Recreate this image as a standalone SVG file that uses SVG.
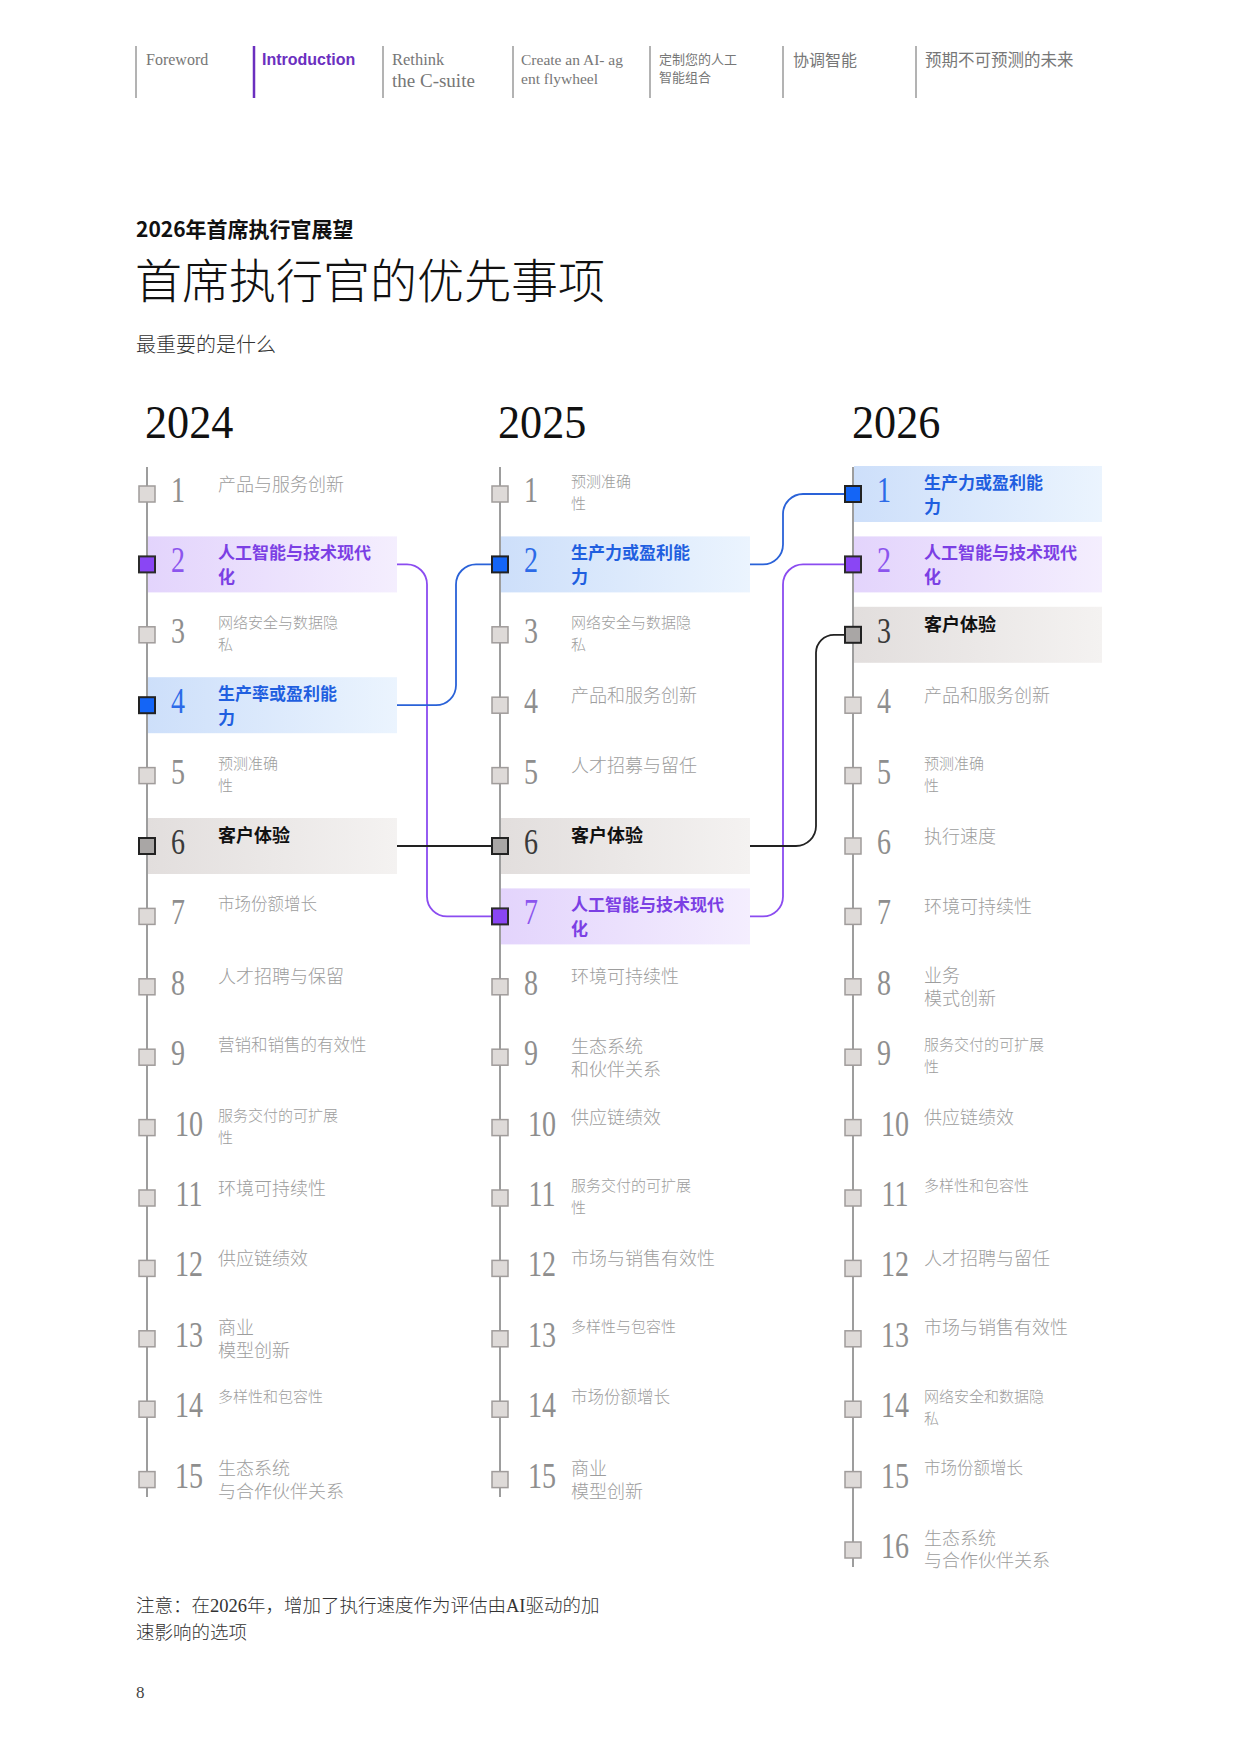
<svg xmlns="http://www.w3.org/2000/svg" width="1241" height="1754" viewBox="0 0 1241 1754">
<style>
.bg{fill:#fff}
.sep{stroke:#9a9a9a;stroke-width:1.5}
.sepa{stroke:#6b2fbf;stroke-width:2.5}
.navs{font-family:"Liberation Serif",serif;fill:#777}
.navc{font-family:"Noto Sans CJK SC",sans-serif;fill:#777}
.spine{stroke:#9d9d9d;stroke-width:2}
.sq{fill:#dedad8;stroke:#a09c9b;stroke-width:1.5}
.sqp{fill:#8a46f4;stroke:#2b2b2b;stroke-width:2}
.sqb{fill:#1465f6;stroke:#222;stroke-width:2}
.sqg{fill:#a9a6a5;stroke:#222;stroke-width:2}
.num{font-family:"Liberation Serif",serif;font-size:35px;fill:#8e8e8e;text-anchor:middle}
.np{fill:#8c55ee}.nb{fill:#2c6ae8}.ng{fill:#3a3a3a}
.lbl{font-family:"Noto Sans CJK SC",sans-serif;fill:#9d9d9d;font-weight:300}
.s18{font-size:18px}.s165{font-size:16.5px}.s15{font-size:15px}
.bp{font-family:"Noto Sans CJK SC",sans-serif;font-weight:700;font-size:17px;fill:#7b3fe4}
.bb{font-family:"Noto Sans CJK SC",sans-serif;font-weight:700;font-size:17px;fill:#1f5fe0}
.bk{font-family:"Noto Sans CJK SC",sans-serif;font-weight:700;font-size:18px;fill:#111}
.year{font-family:"Liberation Serif",serif;font-size:47px;fill:#111}
.cp{fill:none;stroke:#8b4cf0;stroke-width:1.8}
.cb{fill:none;stroke:#2a62d8;stroke-width:1.8}
.ck{fill:none;stroke:#222;stroke-width:1.8}
</style>
<defs>
<linearGradient id="gp" x1="0" y1="0" x2="1" y2="0"><stop offset="0" stop-color="#e3d4fc"/><stop offset="1" stop-color="#f4eefe"/></linearGradient>
<linearGradient id="gb" x1="0" y1="0" x2="1" y2="0"><stop offset="0" stop-color="#cddffa"/><stop offset="1" stop-color="#ebf4fe"/></linearGradient>
<linearGradient id="gg" x1="0" y1="0" x2="1" y2="0"><stop offset="0" stop-color="#e2dedd"/><stop offset="1" stop-color="#f4f2f1"/></linearGradient>
</defs>
<rect class="bg" x="0" y="0" width="1241" height="1754"/>

<g id="nav">
<line class="sep" x1="136" y1="46" x2="136" y2="98"/>
<line class="sepa" x1="254" y1="46" x2="254" y2="98"/>
<line class="sep" x1="383" y1="46" x2="383" y2="98"/>
<line class="sep" x1="513" y1="46" x2="513" y2="98"/>
<line class="sep" x1="650" y1="46" x2="650" y2="98"/>
<line class="sep" x1="783" y1="46" x2="783" y2="98"/>
<line class="sep" x1="916" y1="46" x2="916" y2="98"/>
<text class="navs" x="146" y="65" font-size="16">Foreword</text>
<text x="262" y="65" font-family="'Liberation Sans',sans-serif" font-weight="700" font-size="16" fill="#6b2fbf">Introduction</text>
<text class="navs" x="392" y="65" font-size="16.5">Rethink</text>
<text class="navs" x="392" y="87" font-size="19">the C-suite</text>
<text class="navs" x="521" y="65" font-size="15.5">Create an AI- ag</text>
<text class="navs" x="521" y="84" font-size="15.5">ent flywheel</text>
<text class="navc" x="659" y="64" font-size="13">定制您的人工</text>
<text class="navc" x="659" y="82" font-size="13">智能组合</text>
<text class="navc" x="793" y="66" font-size="16">协调智能</text>
<text class="navc" x="925" y="66" font-size="16.5">预期不可预测的未来</text>
</g>

<g id="header">
<text x="136" y="237" font-family="'Noto Sans CJK SC',sans-serif" font-weight="700" font-size="21" fill="#111">2026年首席执行官展望</text>
<text x="135" y="298" font-family="'Noto Sans CJK SC',sans-serif" font-weight="300" font-size="47" fill="#111">首席执行官的优先事项</text>
<text x="136" y="352" font-family="'Noto Sans CJK SC',sans-serif" font-weight="300" font-size="20" fill="#333">最重要的是什么</text>
<text class="year" transform="translate(145 438) scale(0.94 1)">2024</text>
<text class="year" transform="translate(498 438) scale(0.94 1)">2025</text>
<text class="year" transform="translate(852 438) scale(0.94 1)">2026</text>
</g>

<g id="spines">
<line class="spine" x1="147" y1="467" x2="147" y2="1497"/>
<line class="spine" x1="500" y1="467" x2="500" y2="1497"/>
<line class="spine" x1="853" y1="467" x2="853" y2="1567"/>
</g>

<g id="connectors">
<path class="cp" d="M397 564.4H407A20 20 0 0 1 427 584.4V896.4A20 20 0 0 0 447 916.4H492"/>
<path class="cb" d="M397 705.2H436A20 20 0 0 0 456 685.2V584.4A20 20 0 0 1 476 564.4H492"/>
<path class="ck" d="M397 846H492"/>
<path class="cb" d="M750 564.4H763A20 20 0 0 0 783 544.4V514A20 20 0 0 1 803 494H845"/>
<path class="cp" d="M750 916.4H763A20 20 0 0 0 783 896.4V584.4A20 20 0 0 1 803 564.4H845"/>
<path class="ck" d="M750 846H796A20 20 0 0 0 816 826V652.8A18 18 0 0 1 834 634.8H845"/>
</g>

<!-- 2024 column -->
<g id="y2024-1"><rect class="sq" x="139" y="486" width="16" height="16"/><text class="num" transform="translate(178 502) scale(0.8 1)">1</text><text class="lbl s18" x="218" y="490.5">产品与服务创新</text></g>
<g id="y2024-2"><rect x="148" y="536.4" width="249" height="56" fill="url(#gp)"/><rect class="sqp" x="139" y="556.4" width="16" height="16"/><text class="num np" transform="translate(178 572.4) scale(0.8 1)">2</text><text class="bp" x="218" y="559.4">人工智能与技术现代</text><text class="bp" x="218" y="583.4">化</text></g>
<g id="y2024-3"><rect class="sq" x="139" y="626.8" width="16" height="16"/><text class="num" transform="translate(178 642.8) scale(0.8 1)">3</text><text class="lbl s15" x="218" y="627.8">网络安全与数据隐</text><text class="lbl s15" x="218" y="649.8">私</text></g>
<g id="y2024-4"><rect x="148" y="677.2" width="249" height="56" fill="url(#gb)"/><rect class="sqb" x="139" y="697.2" width="16" height="16"/><text class="num nb" transform="translate(178 713.2) scale(0.8 1)">4</text><text class="bb" x="218" y="700.2">生产率或盈利能</text><text class="bb" x="218" y="724.2">力</text></g>
<g id="y2024-5"><rect class="sq" x="139" y="767.6" width="16" height="16"/><text class="num" transform="translate(178 783.6) scale(0.8 1)">5</text><text class="lbl s15" x="218" y="768.6">预测准确</text><text class="lbl s15" x="218" y="790.6">性</text></g>
<g id="y2024-6"><rect x="148" y="818" width="249" height="56" fill="url(#gg)"/><rect class="sqg" x="139" y="838" width="16" height="16"/><text class="num ng" transform="translate(178 854) scale(0.8 1)">6</text><text class="bk" x="218" y="842">客户体验</text></g>
<g id="y2024-7"><rect class="sq" x="139" y="908.4" width="16" height="16"/><text class="num" transform="translate(178 924.4) scale(0.8 1)">7</text><text class="lbl s165" x="218" y="910.4">市场份额增长</text></g>
<g id="y2024-8"><rect class="sq" x="139" y="978.8" width="16" height="16"/><text class="num" transform="translate(178 994.8) scale(0.8 1)">8</text><text class="lbl s18" x="218" y="983.3">人才招聘与保留</text></g>
<g id="y2024-9"><rect class="sq" x="139" y="1049.2" width="16" height="16"/><text class="num" transform="translate(178 1065.2) scale(0.8 1)">9</text><text class="lbl s165" x="218" y="1051.2">营销和销售的有效性</text></g>
<g id="y2024-10"><rect class="sq" x="139" y="1119.6" width="16" height="16"/><text class="num" transform="translate(189 1135.6) scale(0.8 1)">10</text><text class="lbl s15" x="218" y="1120.6">服务交付的可扩展</text><text class="lbl s15" x="218" y="1142.6">性</text></g>
<g id="y2024-11"><rect class="sq" x="139" y="1190" width="16" height="16"/><text class="num" transform="translate(189 1206) scale(0.8 1)">11</text><text class="lbl s18" x="218" y="1194.5">环境可持续性</text></g>
<g id="y2024-12"><rect class="sq" x="139" y="1260.4" width="16" height="16"/><text class="num" transform="translate(189 1276.4) scale(0.8 1)">12</text><text class="lbl s18" x="218" y="1264.9">供应链绩效</text></g>
<g id="y2024-13"><rect class="sq" x="139" y="1330.8" width="16" height="16"/><text class="num" transform="translate(189 1346.8) scale(0.8 1)">13</text><text class="lbl s18" x="218" y="1334.3">商业</text><text class="lbl s18" x="218" y="1357.3">模型创新</text></g>
<g id="y2024-14"><rect class="sq" x="139" y="1401.2" width="16" height="16"/><text class="num" transform="translate(189 1417.2) scale(0.8 1)">14</text><text class="lbl s15" x="218" y="1402.2">多样性和包容性</text></g>
<g id="y2024-15"><rect class="sq" x="139" y="1471.6" width="16" height="16"/><text class="num" transform="translate(189 1487.6) scale(0.8 1)">15</text><text class="lbl s18" x="218" y="1475.1">生态系统</text><text class="lbl s18" x="218" y="1498.1">与合作伙伴关系</text></g>

<!-- 2025 column -->
<g id="y2025-1"><rect class="sq" x="492" y="486" width="16" height="16"/><text class="num" transform="translate(531 502) scale(0.8 1)">1</text><text class="lbl s15" x="571" y="487">预测准确</text><text class="lbl s15" x="571" y="509">性</text></g>
<g id="y2025-2"><rect x="501" y="536.4" width="249" height="56" fill="url(#gb)"/><rect class="sqb" x="492" y="556.4" width="16" height="16"/><text class="num nb" transform="translate(531 572.4) scale(0.8 1)">2</text><text class="bb" x="571" y="559.4">生产力或盈利能</text><text class="bb" x="571" y="583.4">力</text></g>
<g id="y2025-3"><rect class="sq" x="492" y="626.8" width="16" height="16"/><text class="num" transform="translate(531 642.8) scale(0.8 1)">3</text><text class="lbl s15" x="571" y="627.8">网络安全与数据隐</text><text class="lbl s15" x="571" y="649.8">私</text></g>
<g id="y2025-4"><rect class="sq" x="492" y="697.2" width="16" height="16"/><text class="num" transform="translate(531 713.2) scale(0.8 1)">4</text><text class="lbl s18" x="571" y="701.7">产品和服务创新</text></g>
<g id="y2025-5"><rect class="sq" x="492" y="767.6" width="16" height="16"/><text class="num" transform="translate(531 783.6) scale(0.8 1)">5</text><text class="lbl s18" x="571" y="772.1">人才招募与留任</text></g>
<g id="y2025-6"><rect x="501" y="818" width="249" height="56" fill="url(#gg)"/><rect class="sqg" x="492" y="838" width="16" height="16"/><text class="num ng" transform="translate(531 854) scale(0.8 1)">6</text><text class="bk" x="571" y="842">客户体验</text></g>
<g id="y2025-7"><rect x="501" y="888.4" width="249" height="56" fill="url(#gp)"/><rect class="sqp" x="492" y="908.4" width="16" height="16"/><text class="num np" transform="translate(531 924.4) scale(0.8 1)">7</text><text class="bp" x="571" y="911.4">人工智能与技术现代</text><text class="bp" x="571" y="935.4">化</text></g>
<g id="y2025-8"><rect class="sq" x="492" y="978.8" width="16" height="16"/><text class="num" transform="translate(531 994.8) scale(0.8 1)">8</text><text class="lbl s18" x="571" y="983.3">环境可持续性</text></g>
<g id="y2025-9"><rect class="sq" x="492" y="1049.2" width="16" height="16"/><text class="num" transform="translate(531 1065.2) scale(0.8 1)">9</text><text class="lbl s18" x="571" y="1052.7">生态系统</text><text class="lbl s18" x="571" y="1075.7">和伙伴关系</text></g>
<g id="y2025-10"><rect class="sq" x="492" y="1119.6" width="16" height="16"/><text class="num" transform="translate(542 1135.6) scale(0.8 1)">10</text><text class="lbl s18" x="571" y="1124.1">供应链绩效</text></g>
<g id="y2025-11"><rect class="sq" x="492" y="1190" width="16" height="16"/><text class="num" transform="translate(542 1206) scale(0.8 1)">11</text><text class="lbl s15" x="571" y="1191">服务交付的可扩展</text><text class="lbl s15" x="571" y="1213">性</text></g>
<g id="y2025-12"><rect class="sq" x="492" y="1260.4" width="16" height="16"/><text class="num" transform="translate(542 1276.4) scale(0.8 1)">12</text><text class="lbl s18" x="571" y="1264.9">市场与销售有效性</text></g>
<g id="y2025-13"><rect class="sq" x="492" y="1330.8" width="16" height="16"/><text class="num" transform="translate(542 1346.8) scale(0.8 1)">13</text><text class="lbl s15" x="571" y="1331.8">多样性与包容性</text></g>
<g id="y2025-14"><rect class="sq" x="492" y="1401.2" width="16" height="16"/><text class="num" transform="translate(542 1417.2) scale(0.8 1)">14</text><text class="lbl s165" x="571" y="1403.2">市场份额增长</text></g>
<g id="y2025-15"><rect class="sq" x="492" y="1471.6" width="16" height="16"/><text class="num" transform="translate(542 1487.6) scale(0.8 1)">15</text><text class="lbl s18" x="571" y="1475.1">商业</text><text class="lbl s18" x="571" y="1498.1">模型创新</text></g>

<!-- 2026 column -->
<g id="y2026-1"><rect x="854" y="466" width="248" height="56" fill="url(#gb)"/><rect class="sqb" x="845" y="486" width="16" height="16"/><text class="num nb" transform="translate(884 502) scale(0.8 1)">1</text><text class="bb" x="924" y="489">生产力或盈利能</text><text class="bb" x="924" y="513">力</text></g>
<g id="y2026-2"><rect x="854" y="536.4" width="248" height="56" fill="url(#gp)"/><rect class="sqp" x="845" y="556.4" width="16" height="16"/><text class="num np" transform="translate(884 572.4) scale(0.8 1)">2</text><text class="bp" x="924" y="559.4">人工智能与技术现代</text><text class="bp" x="924" y="583.4">化</text></g>
<g id="y2026-3"><rect x="854" y="606.8" width="248" height="56" fill="url(#gg)"/><rect class="sqg" x="845" y="626.8" width="16" height="16"/><text class="num ng" transform="translate(884 642.8) scale(0.8 1)">3</text><text class="bk" x="924" y="630.8">客户体验</text></g>
<g id="y2026-4"><rect class="sq" x="845" y="697.2" width="16" height="16"/><text class="num" transform="translate(884 713.2) scale(0.8 1)">4</text><text class="lbl s18" x="924" y="701.7">产品和服务创新</text></g>
<g id="y2026-5"><rect class="sq" x="845" y="767.6" width="16" height="16"/><text class="num" transform="translate(884 783.6) scale(0.8 1)">5</text><text class="lbl s15" x="924" y="768.6">预测准确</text><text class="lbl s15" x="924" y="790.6">性</text></g>
<g id="y2026-6"><rect class="sq" x="845" y="838" width="16" height="16"/><text class="num" transform="translate(884 854) scale(0.8 1)">6</text><text class="lbl s18" x="924" y="842.5">执行速度</text></g>
<g id="y2026-7"><rect class="sq" x="845" y="908.4" width="16" height="16"/><text class="num" transform="translate(884 924.4) scale(0.8 1)">7</text><text class="lbl s18" x="924" y="912.9">环境可持续性</text></g>
<g id="y2026-8"><rect class="sq" x="845" y="978.8" width="16" height="16"/><text class="num" transform="translate(884 994.8) scale(0.8 1)">8</text><text class="lbl s18" x="924" y="982.3">业务</text><text class="lbl s18" x="924" y="1005.3">模式创新</text></g>
<g id="y2026-9"><rect class="sq" x="845" y="1049.2" width="16" height="16"/><text class="num" transform="translate(884 1065.2) scale(0.8 1)">9</text><text class="lbl s15" x="924" y="1050.2">服务交付的可扩展</text><text class="lbl s15" x="924" y="1072.2">性</text></g>
<g id="y2026-10"><rect class="sq" x="845" y="1119.6" width="16" height="16"/><text class="num" transform="translate(895 1135.6) scale(0.8 1)">10</text><text class="lbl s18" x="924" y="1124.1">供应链绩效</text></g>
<g id="y2026-11"><rect class="sq" x="845" y="1190" width="16" height="16"/><text class="num" transform="translate(895 1206) scale(0.8 1)">11</text><text class="lbl s15" x="924" y="1191">多样性和包容性</text></g>
<g id="y2026-12"><rect class="sq" x="845" y="1260.4" width="16" height="16"/><text class="num" transform="translate(895 1276.4) scale(0.8 1)">12</text><text class="lbl s18" x="924" y="1264.9">人才招聘与留任</text></g>
<g id="y2026-13"><rect class="sq" x="845" y="1330.8" width="16" height="16"/><text class="num" transform="translate(895 1346.8) scale(0.8 1)">13</text><text class="lbl s18" x="924" y="1334.3">市场与销售有效性</text></g>
<g id="y2026-14"><rect class="sq" x="845" y="1401.2" width="16" height="16"/><text class="num" transform="translate(895 1417.2) scale(0.8 1)">14</text><text class="lbl s15" x="924" y="1402.2">网络安全和数据隐</text><text class="lbl s15" x="924" y="1424.2">私</text></g>
<g id="y2026-15"><rect class="sq" x="845" y="1471.6" width="16" height="16"/><text class="num" transform="translate(895 1487.6) scale(0.8 1)">15</text><text class="lbl s165" x="924" y="1473.6">市场份额增长</text></g>
<g id="y2026-16"><rect class="sq" x="845" y="1542" width="16" height="16"/><text class="num" transform="translate(895 1558) scale(0.8 1)">16</text><text class="lbl s18" x="924" y="1544.5">生态系统</text><text class="lbl s18" x="924" y="1566.5">与合作伙伴关系</text></g>

<g id="footer">
<text x="136" y="1612" font-family="'Liberation Serif','Noto Sans CJK SC',serif" font-weight="300" font-size="18.5" fill="#333">注意：在2026年，增加了执行速度作为评估由AI驱动的加</text>
<text x="136" y="1639" font-family="'Liberation Serif','Noto Sans CJK SC',serif" font-weight="300" font-size="18.5" fill="#333">速影响的选项</text>
<text x="136" y="1698" font-family="'Liberation Serif',serif" font-size="17" fill="#444">8</text>
</g>
</svg>
